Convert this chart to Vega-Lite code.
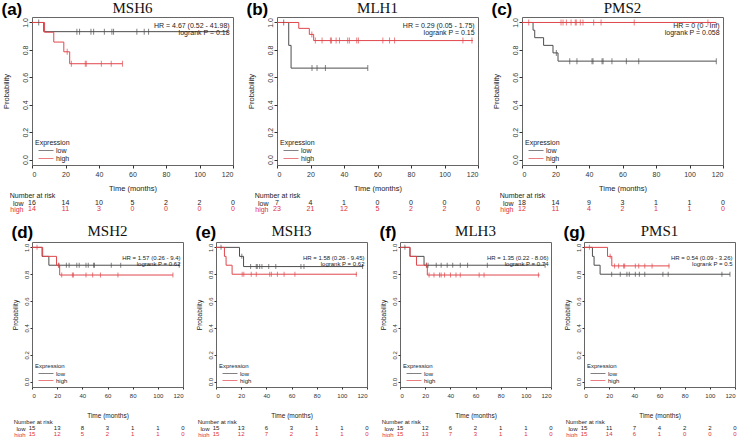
{
"$schema": "https://vega.github.io/schema/vega-lite/v6.json",
"padding": {"left": 1, "top": 0, "right": 0, "bottom": 0},
"config": {
  "font": "Liberation Sans",
  "view": {"stroke": "#666", "strokeWidth": 1},
  "axis": {"grid": false, "domain": false, "tickColor": "#333", "labelColor": "#333", "titleColor": "#222", "titleFontWeight": "normal", "labelFont": "Liberation Sans", "titleFont": "Liberation Sans"},
  "legend": {"orient": "bottom-left", "offset": 3, "padding": 0, "titleFontWeight": "normal", "titleFontSize": 7, "labelFontSize": 7, "symbolType": "M0,0H5", "symbolSize": 36, "symbolStrokeWidth": 1, "rowPadding": 0, "titlePadding": 1, "labelOffset": 14, "titleColor": "#222", "labelColor": "#222", "titleFont": "Liberation Sans", "labelFont": "Liberation Sans"},
  "text": {"font": "Liberation Sans"}
},
"datasets": {
  "a": [
    {"t":0,"s":1,"g":"low","k":"c"},{"t":7,"s":0.933,"g":"low","k":"c"},{"t":117,"s":0.933,"g":"low","k":"c"},
    {"t":0,"s":1,"g":"high","k":"c"},{"t":7.5,"s":0.929,"g":"high","k":"c"},{"t":13,"s":0.857,"g":"high","k":"c"},{"t":19,"s":0.786,"g":"high","k":"c"},{"t":22.5,"s":0.699,"g":"high","k":"c"},{"t":54,"s":0.699,"g":"high","k":"c"},
    {"t":4,"s":1,"g":"low","k":"x"},{"t":26.8,"s":0.933,"g":"low","k":"x"},{"t":28.4,"s":0.933,"g":"low","k":"x"},{"t":35.2,"s":0.933,"g":"low","k":"x"},{"t":36.8,"s":0.933,"g":"low","k":"x"},{"t":43.2,"s":0.933,"g":"low","k":"x"},{"t":47.7,"s":0.933,"g":"low","k":"x"},{"t":48.7,"s":0.933,"g":"low","k":"x"},{"t":62.6,"s":0.933,"g":"low","k":"x"},{"t":67,"s":0.933,"g":"low","k":"x"},{"t":69.6,"s":0.933,"g":"low","k":"x"},
    {"t":21,"s":0.786,"g":"high","k":"x"},{"t":23.5,"s":0.699,"g":"high","k":"x"},{"t":31.8,"s":0.699,"g":"high","k":"x"},{"t":32.4,"s":0.699,"g":"high","k":"x"},{"t":41.4,"s":0.699,"g":"high","k":"x"},{"t":47.3,"s":0.699,"g":"high","k":"x"},{"t":54,"s":0.699,"g":"high","k":"x"},
    {"k":"h1","label":"HR = 4.67 (0.52 - 41.98)"},{"k":"h2","label":"logrank P = 0.18"}
  ],
  "b": [
    {"t":0,"s":1,"g":"low","k":"c"},{"t":7,"s":0.833,"g":"low","k":"c"},{"t":8.4,"s":0.667,"g":"low","k":"c"},{"t":54.2,"s":0.667,"g":"low","k":"c"},
    {"t":0,"s":1,"g":"high","k":"c"},{"t":13,"s":0.957,"g":"high","k":"c"},{"t":19.3,"s":0.913,"g":"high","k":"c"},{"t":21.9,"s":0.868,"g":"high","k":"c"},{"t":117,"s":0.868,"g":"high","k":"c"},
    {"t":4,"s":1,"g":"low","k":"x"},{"t":20.9,"s":0.667,"g":"low","k":"x"},{"t":23.9,"s":0.667,"g":"low","k":"x"},{"t":28.9,"s":0.667,"g":"low","k":"x"},{"t":54.2,"s":0.667,"g":"low","k":"x"},
    {"t":20.8,"s":0.913,"g":"high","k":"x"},{"t":22.9,"s":0.868,"g":"high","k":"x"},{"t":26.9,"s":0.868,"g":"high","k":"x"},{"t":31.9,"s":0.868,"g":"high","k":"x"},{"t":32.5,"s":0.868,"g":"high","k":"x"},{"t":35.3,"s":0.868,"g":"high","k":"x"},{"t":37.3,"s":0.868,"g":"high","k":"x"},{"t":42.2,"s":0.868,"g":"high","k":"x"},{"t":43.2,"s":0.868,"g":"high","k":"x"},{"t":47.6,"s":0.868,"g":"high","k":"x"},{"t":48.6,"s":0.868,"g":"high","k":"x"},{"t":63.2,"s":0.868,"g":"high","k":"x"},{"t":67.2,"s":0.868,"g":"high","k":"x"},{"t":70.2,"s":0.868,"g":"high","k":"x"},{"t":111,"s":0.868,"g":"high","k":"x"},{"t":116.4,"s":0.868,"g":"high","k":"x"},
    {"k":"h1","label":"HR = 0.29 (0.05 - 1.75)"},{"k":"h2","label":"logrank P = 0.15"}
  ],
  "c": [
    {"t":0,"s":1,"g":"low","k":"c"},{"t":6.6,"s":0.944,"g":"low","k":"c"},{"t":7.6,"s":0.889,"g":"low","k":"c"},{"t":12.9,"s":0.833,"g":"low","k":"c"},{"t":18.5,"s":0.778,"g":"low","k":"c"},{"t":21.5,"s":0.718,"g":"low","k":"c"},{"t":116,"s":0.718,"g":"low","k":"c"},
    {"t":0,"s":1,"g":"high","k":"c"},{"t":116,"s":1,"g":"high","k":"c"},
    {"t":20.5,"s":0.778,"g":"low","k":"x"},{"t":28.5,"s":0.718,"g":"low","k":"x"},{"t":32.8,"s":0.718,"g":"low","k":"x"},{"t":41.8,"s":0.718,"g":"low","k":"x"},{"t":42.4,"s":0.718,"g":"low","k":"x"},{"t":47.8,"s":0.718,"g":"low","k":"x"},{"t":48.4,"s":0.718,"g":"low","k":"x"},{"t":53.7,"s":0.718,"g":"low","k":"x"},{"t":62.3,"s":0.718,"g":"low","k":"x"},{"t":69.7,"s":0.718,"g":"low","k":"x"},{"t":116,"s":0.718,"g":"low","k":"x"},
    {"t":4,"s":1,"g":"high","k":"x"},{"t":23.3,"s":1,"g":"high","k":"x"},{"t":24.5,"s":1,"g":"high","k":"x"},{"t":26.5,"s":1,"g":"high","k":"x"},{"t":29.3,"s":1,"g":"high","k":"x"},{"t":31.8,"s":1,"g":"high","k":"x"},{"t":32.4,"s":1,"g":"high","k":"x"},{"t":34.8,"s":1,"g":"high","k":"x"},{"t":36.4,"s":1,"g":"high","k":"x"},{"t":42.8,"s":1,"g":"high","k":"x"},{"t":47.2,"s":1,"g":"high","k":"x"},{"t":67,"s":1,"g":"high","k":"x"},{"t":111,"s":1,"g":"high","k":"x"},
    {"k":"h1","label":"HR = 0 (0 - Inf)"},{"k":"h2","label":"logrank P = 0.058"}
  ],
  "d": [
    {"t":0,"s":1,"g":"low","k":"c"},{"t":8,"s":0.933,"g":"low","k":"c"},{"t":13.4,"s":0.867,"g":"low","k":"c"},{"t":117,"s":0.867,"g":"low","k":"c"},
    {"t":0,"s":1,"g":"high","k":"c"},{"t":8.5,"s":0.933,"g":"high","k":"c"},{"t":19.5,"s":0.867,"g":"high","k":"c"},{"t":22,"s":0.794,"g":"high","k":"c"},{"t":112,"s":0.794,"g":"high","k":"c"},
    {"t":21.4,"s":0.867,"g":"low","k":"x"},{"t":27.3,"s":0.867,"g":"low","k":"x"},{"t":29.5,"s":0.867,"g":"low","k":"x"},{"t":35.6,"s":0.867,"g":"low","k":"x"},{"t":37.5,"s":0.867,"g":"low","k":"x"},{"t":42.9,"s":0.867,"g":"low","k":"x"},{"t":44.7,"s":0.867,"g":"low","k":"x"},{"t":49,"s":0.867,"g":"low","k":"x"},{"t":49.6,"s":0.867,"g":"low","k":"x"},{"t":63,"s":0.867,"g":"low","k":"x"},{"t":70.5,"s":0.867,"g":"low","k":"x"},{"t":117,"s":0.867,"g":"low","k":"x"},
    {"t":4,"s":1,"g":"high","k":"x"},{"t":21,"s":0.867,"g":"high","k":"x"},{"t":23.6,"s":0.794,"g":"high","k":"x"},{"t":32.1,"s":0.794,"g":"high","k":"x"},{"t":32.9,"s":0.794,"g":"high","k":"x"},{"t":42.9,"s":0.794,"g":"high","k":"x"},{"t":48.2,"s":0.794,"g":"high","k":"x"},{"t":54.4,"s":0.794,"g":"high","k":"x"},{"t":68.3,"s":0.794,"g":"high","k":"x"},{"t":112,"s":0.794,"g":"high","k":"x"},
    {"k":"h1","label":"HR = 1.57 (0.26 - 9.4)"},{"k":"h2","label":"logrank P = 0.62"}
  ],
  "e": [
    {"t":0,"s":1,"g":"low","k":"c"},{"t":18.7,"s":0.933,"g":"low","k":"c"},{"t":21.9,"s":0.857,"g":"low","k":"c"},{"t":117,"s":0.857,"g":"low","k":"c"},
    {"t":0,"s":1,"g":"high","k":"c"},{"t":6.7,"s":0.933,"g":"high","k":"c"},{"t":8,"s":0.867,"g":"high","k":"c"},{"t":12.8,"s":0.8,"g":"high","k":"c"},{"t":112,"s":0.8,"g":"high","k":"c"},
    {"t":4,"s":1,"g":"low","k":"x"},{"t":20.5,"s":0.933,"g":"low","k":"x"},{"t":27.5,"s":0.857,"g":"low","k":"x"},{"t":32,"s":0.857,"g":"low","k":"x"},{"t":32.8,"s":0.857,"g":"low","k":"x"},{"t":34.7,"s":0.857,"g":"low","k":"x"},{"t":36.5,"s":0.857,"g":"low","k":"x"},{"t":41.9,"s":0.857,"g":"low","k":"x"},{"t":47.5,"s":0.857,"g":"low","k":"x"},{"t":67.5,"s":0.857,"g":"low","k":"x"},{"t":69.9,"s":0.857,"g":"low","k":"x"},{"t":116.5,"s":0.857,"g":"low","k":"x"},
    {"t":20.8,"s":0.8,"g":"high","k":"x"},{"t":22.1,"s":0.8,"g":"high","k":"x"},{"t":28,"s":0.8,"g":"high","k":"x"},{"t":32,"s":0.8,"g":"high","k":"x"},{"t":42.7,"s":0.8,"g":"high","k":"x"},{"t":44,"s":0.8,"g":"high","k":"x"},{"t":48.8,"s":0.8,"g":"high","k":"x"},{"t":54.1,"s":0.8,"g":"high","k":"x"},{"t":62.7,"s":0.8,"g":"high","k":"x"},{"t":111.5,"s":0.8,"g":"high","k":"x"},
    {"k":"h1","label":"HR = 1.58 (0.26 - 9.45)"},{"k":"h2","label":"logrank P = 0.62"}
  ],
  "f": [
    {"t":0,"s":1,"g":"low","k":"c"},{"t":7.9,"s":0.933,"g":"low","k":"c"},{"t":19.1,"s":0.867,"g":"low","k":"c"},{"t":115.3,"s":0.867,"g":"low","k":"c"},
    {"t":0,"s":1,"g":"high","k":"c"},{"t":8,"s":0.933,"g":"high","k":"c"},{"t":13.1,"s":0.867,"g":"high","k":"c"},{"t":21.7,"s":0.794,"g":"high","k":"c"},{"t":111,"s":0.794,"g":"high","k":"c"},
    {"t":3.9,"s":1,"g":"low","k":"x"},{"t":21,"s":0.867,"g":"low","k":"x"},{"t":22.3,"s":0.867,"g":"low","k":"x"},{"t":28.8,"s":0.867,"g":"low","k":"x"},{"t":32.7,"s":0.867,"g":"low","k":"x"},{"t":37.5,"s":0.867,"g":"low","k":"x"},{"t":41.9,"s":0.867,"g":"low","k":"x"},{"t":47.9,"s":0.867,"g":"low","k":"x"},{"t":53.7,"s":0.867,"g":"low","k":"x"},{"t":69.4,"s":0.867,"g":"low","k":"x"},{"t":115.3,"s":0.867,"g":"low","k":"x"},
    {"t":21,"s":0.867,"g":"high","k":"x"},{"t":23.1,"s":0.794,"g":"high","k":"x"},{"t":27,"s":0.794,"g":"high","k":"x"},{"t":31.4,"s":0.794,"g":"high","k":"x"},{"t":32.7,"s":0.794,"g":"high","k":"x"},{"t":35.4,"s":0.794,"g":"high","k":"x"},{"t":40.1,"s":0.794,"g":"high","k":"x"},{"t":44.5,"s":0.794,"g":"high","k":"x"},{"t":47.9,"s":0.794,"g":"high","k":"x"},{"t":62.9,"s":0.794,"g":"high","k":"x"},{"t":66.8,"s":0.794,"g":"high","k":"x"},{"t":110,"s":0.794,"g":"high","k":"x"},
    {"k":"h1","label":"HR = 1.35 (0.22 - 8.06)"},{"k":"h2","label":"logrank P = 0.74"}
  ],
  "g": [
    {"t":0,"s":1,"g":"low","k":"c"},{"t":6.7,"s":0.933,"g":"low","k":"c"},{"t":8,"s":0.867,"g":"low","k":"c"},{"t":12.8,"s":0.8,"g":"low","k":"c"},{"t":116,"s":0.8,"g":"low","k":"c"},
    {"t":0,"s":1,"g":"high","k":"c"},{"t":18.7,"s":0.933,"g":"high","k":"c"},{"t":22.1,"s":0.862,"g":"high","k":"c"},{"t":68,"s":0.862,"g":"high","k":"c"},
    {"t":22,"s":0.8,"g":"low","k":"x"},{"t":28.8,"s":0.8,"g":"low","k":"x"},{"t":34.1,"s":0.8,"g":"low","k":"x"},{"t":36,"s":0.8,"g":"low","k":"x"},{"t":40.8,"s":0.8,"g":"low","k":"x"},{"t":44,"s":0.8,"g":"low","k":"x"},{"t":48.3,"s":0.8,"g":"low","k":"x"},{"t":62.7,"s":0.8,"g":"low","k":"x"},{"t":66.9,"s":0.8,"g":"low","k":"x"},{"t":109.6,"s":0.8,"g":"low","k":"x"},{"t":116,"s":0.8,"g":"low","k":"x"},
    {"t":4.3,"s":1,"g":"high","k":"x"},{"t":20.8,"s":0.933,"g":"high","k":"x"},{"t":24.3,"s":0.862,"g":"high","k":"x"},{"t":27.5,"s":0.862,"g":"high","k":"x"},{"t":31.5,"s":0.862,"g":"high","k":"x"},{"t":32.3,"s":0.862,"g":"high","k":"x"},{"t":40.8,"s":0.862,"g":"high","k":"x"},{"t":43.5,"s":0.862,"g":"high","k":"x"},{"t":48.3,"s":0.862,"g":"high","k":"x"},{"t":54.1,"s":0.862,"g":"high","k":"x"},{"t":67.5,"s":0.862,"g":"high","k":"x"},
    {"k":"h1","label":"HR = 0.54 (0.09 - 3.26)"},{"k":"h2","label":"logrank P = 0.5"}
  ],
  "ra": [{"t":0,"n":16,"g":"low"},{"t":20,"n":14,"g":"low"},{"t":40,"n":10,"g":"low"},{"t":60,"n":5,"g":"low"},{"t":80,"n":2,"g":"low"},{"t":100,"n":2,"g":"low"},{"t":120,"n":0,"g":"low"},
         {"t":0,"n":14,"g":"high"},{"t":20,"n":11,"g":"high"},{"t":40,"n":3,"g":"high"},{"t":60,"n":0,"g":"high"},{"t":80,"n":0,"g":"high"},{"t":100,"n":0,"g":"high"},{"t":120,"n":0,"g":"high"}],
  "rb": [{"t":0,"n":7,"g":"low"},{"t":20,"n":4,"g":"low"},{"t":40,"n":1,"g":"low"},{"t":60,"n":0,"g":"low"},{"t":80,"n":0,"g":"low"},{"t":100,"n":0,"g":"low"},{"t":120,"n":0,"g":"low"},
         {"t":0,"n":23,"g":"high"},{"t":20,"n":21,"g":"high"},{"t":40,"n":12,"g":"high"},{"t":60,"n":5,"g":"high"},{"t":80,"n":2,"g":"high"},{"t":100,"n":2,"g":"high"},{"t":120,"n":0,"g":"high"}],
  "rc": [{"t":0,"n":18,"g":"low"},{"t":20,"n":14,"g":"low"},{"t":40,"n":9,"g":"low"},{"t":60,"n":3,"g":"low"},{"t":80,"n":1,"g":"low"},{"t":100,"n":1,"g":"low"},{"t":120,"n":0,"g":"low"},
         {"t":0,"n":12,"g":"high"},{"t":20,"n":11,"g":"high"},{"t":40,"n":4,"g":"high"},{"t":60,"n":2,"g":"high"},{"t":80,"n":1,"g":"high"},{"t":100,"n":1,"g":"high"},{"t":120,"n":0,"g":"high"}],
  "rd": [{"t":0,"n":15,"g":"low"},{"t":20,"n":13,"g":"low"},{"t":40,"n":8,"g":"low"},{"t":60,"n":3,"g":"low"},{"t":80,"n":1,"g":"low"},{"t":100,"n":1,"g":"low"},{"t":120,"n":0,"g":"low"},
         {"t":0,"n":15,"g":"high"},{"t":20,"n":12,"g":"high"},{"t":40,"n":5,"g":"high"},{"t":60,"n":2,"g":"high"},{"t":80,"n":1,"g":"high"},{"t":100,"n":1,"g":"high"},{"t":120,"n":0,"g":"high"}],
  "re": [{"t":0,"n":15,"g":"low"},{"t":20,"n":13,"g":"low"},{"t":40,"n":6,"g":"low"},{"t":60,"n":3,"g":"low"},{"t":80,"n":1,"g":"low"},{"t":100,"n":1,"g":"low"},{"t":120,"n":0,"g":"low"},
         {"t":0,"n":15,"g":"high"},{"t":20,"n":12,"g":"high"},{"t":40,"n":7,"g":"high"},{"t":60,"n":2,"g":"high"},{"t":80,"n":1,"g":"high"},{"t":100,"n":1,"g":"high"},{"t":120,"n":0,"g":"high"}],
  "rf": [{"t":0,"n":15,"g":"low"},{"t":20,"n":12,"g":"low"},{"t":40,"n":6,"g":"low"},{"t":60,"n":2,"g":"low"},{"t":80,"n":1,"g":"low"},{"t":100,"n":1,"g":"low"},{"t":120,"n":0,"g":"low"},
         {"t":0,"n":15,"g":"high"},{"t":20,"n":13,"g":"high"},{"t":40,"n":7,"g":"high"},{"t":60,"n":3,"g":"high"},{"t":80,"n":1,"g":"high"},{"t":100,"n":1,"g":"high"},{"t":120,"n":0,"g":"high"}],
  "rg": [{"t":0,"n":15,"g":"low"},{"t":20,"n":11,"g":"low"},{"t":40,"n":7,"g":"low"},{"t":60,"n":4,"g":"low"},{"t":80,"n":2,"g":"low"},{"t":100,"n":2,"g":"low"},{"t":120,"n":0,"g":"low"},
         {"t":0,"n":15,"g":"high"},{"t":20,"n":14,"g":"high"},{"t":40,"n":6,"g":"high"},{"t":60,"n":1,"g":"high"},{"t":80,"n":0,"g":"high"},{"t":100,"n":0,"g":"high"},{"t":120,"n":0,"g":"high"}]
},
"resolve": {"scale": {"x": "independent", "y": "independent", "color": "independent"}, "legend": {"color": "independent"}},
"spacing": 11,
"vconcat": [
 {
  "hconcat": [
   {
    "title": {"text": "(a)", "anchor": "start", "frame": "bounds", "fontSize": 17, "fontWeight": "bold", "offset": -18, "color": "#000"},
    "spacing": 0,
    "resolve": {"scale": {"x": "independent", "y": "independent", "color": "independent"}, "legend": {"color": "independent"}},
    "vconcat": [
     {
      "width": 201, "height": 148,
      "title": {"text": "MSH6", "font": "Liberation Serif", "fontSize": 15, "fontWeight": "normal", "offset": 1, "color": "#111"},
      "data": {"name": "a"},
      "layer": [
        {"transform": [{"filter": "datum.k == 'c'"}], "mark": {"type": "line", "interpolate": "step-after", "strokeWidth": 1},
         "encoding": {
          "x": {"field": "t", "type": "quantitative", "scale": {"domain": [0, 120], "nice": false, "zero": false}, "axis": {"values": [0,20,40,60,80,100,120], "title": "Time (months)", "labelFontSize": 7, "titleFontSize": 7.5, "tickSize": 3, "labelPadding": 2, "titlePadding": 7}},
          "y": {"field": "s", "type": "quantitative", "scale": {"domain": [-0.04, 1.04], "nice": false, "zero": false}, "axis": {"values": [0,0.2,0.4,0.6,0.8,1], "format": ".1f", "title": "Probability", "labelAngle": -90, "labelFontSize": 7, "titleFontSize": 7.5, "tickSize": 3, "labelPadding": 1, "titlePadding": 11}},
          "color": {"field": "g", "type": "nominal", "scale": {"domain": ["low","high"], "range": ["#4d4d4d","#e0474c"]}, "legend": {"title": "Expression"}}}},
        {"transform": [{"filter": "datum.k == 'x'"}], "mark": {"type": "tick", "orient": "vertical", "size": 6, "thickness": 1},
         "encoding": {
          "x": {"field": "t", "type": "quantitative", "scale": {"domain": [0, 120], "nice": false, "zero": false}, "axis": {"values": [0,20,40,60,80,100,120], "title": "Time (months)", "labelFontSize": 7, "titleFontSize": 7.5, "tickSize": 3, "labelPadding": 2, "titlePadding": 7}},
          "y": {"field": "s", "type": "quantitative", "scale": {"domain": [-0.04, 1.04], "nice": false, "zero": false}, "axis": {"values": [0,0.2,0.4,0.6,0.8,1], "format": ".1f", "title": "Probability", "labelAngle": -90, "labelFontSize": 7, "titleFontSize": 7.5, "tickSize": 3, "labelPadding": 1, "titlePadding": 11}},
          "color": {"field": "g", "type": "nominal", "scale": {"domain": ["low","high"], "range": ["#4d4d4d","#e0474c"]}, "legend": {"title": "Expression"}}}},
        {"transform": [{"filter": "datum.k == 'h1'"}], "mark": {"type": "text", "align": "right", "baseline": "middle", "fontSize": 7, "fill": "#222"},
         "encoding": {
          "x": {"datum": 118, "type": "quantitative", "scale": {"domain": [0, 120], "nice": false, "zero": false}, "axis": {"values": [0,20,40,60,80,100,120], "title": "Time (months)", "labelFontSize": 7, "titleFontSize": 7.5, "tickSize": 3, "labelPadding": 2, "titlePadding": 7}},
          "y": {"datum": 0.975, "type": "quantitative", "scale": {"domain": [-0.04, 1.04], "nice": false, "zero": false}, "axis": {"values": [0,0.2,0.4,0.6,0.8,1], "format": ".1f", "title": "Probability", "labelAngle": -90, "labelFontSize": 7, "titleFontSize": 7.5, "tickSize": 3, "labelPadding": 1, "titlePadding": 11}},
          "text": {"field": "label", "type": "nominal"}}},
        {"transform": [{"filter": "datum.k == 'h2'"}], "mark": {"type": "text", "align": "right", "baseline": "middle", "fontSize": 7, "fill": "#222"},
         "encoding": {
          "x": {"datum": 118, "type": "quantitative", "scale": {"domain": [0, 120], "nice": false, "zero": false}, "axis": {"values": [0,20,40,60,80,100,120], "title": "Time (months)", "labelFontSize": 7, "titleFontSize": 7.5, "tickSize": 3, "labelPadding": 2, "titlePadding": 7}},
          "y": {"datum": 0.925, "type": "quantitative", "scale": {"domain": [-0.04, 1.04], "nice": false, "zero": false}, "axis": {"values": [0,0.2,0.4,0.6,0.8,1], "format": ".1f", "title": "Probability", "labelAngle": -90, "labelFontSize": 7, "titleFontSize": 7.5, "tickSize": 3, "labelPadding": 1, "titlePadding": 11}},
          "text": {"field": "label", "type": "nominal"}}}
      ]
     },
     {
      "width": 201, "height": 12, "view": {"stroke": null},
      "title": {"text": "Number at risk", "anchor": "start", "fontSize": 7, "fontWeight": "normal", "offset": 0, "color": "#222"},
      "data": {"name": "ra"},
      "mark": {"type": "text", "fontSize": 7},
      "encoding": {
        "x": {"field": "t", "type": "quantitative", "scale": {"domain": [0, 120], "nice": false}, "axis": null},
        "y": {"field": "g", "type": "nominal", "scale": {"domain": ["low","high"]}, "axis": {"title": null, "ticks": false, "domain": false, "labelPadding": 9, "labelFontSize": 7, "labelColor": {"condition": {"test": "datum.value == 'high'", "value": "#e0303a"}, "value": "#222"}}},
        "text": {"field": "n", "type": "quantitative"},
        "color": {"condition": {"test": "datum.g == 'high'", "value": "#e0303a"}, "value": "#222"}
      }
     }
    ]
   },
   {
    "title": {"text": "(b)", "anchor": "start", "frame": "bounds", "fontSize": 17, "fontWeight": "bold", "offset": -18, "color": "#000"},
    "spacing": 0,
    "resolve": {"scale": {"x": "independent", "y": "independent", "color": "independent"}, "legend": {"color": "independent"}},
    "vconcat": [
     {
      "width": 201, "height": 148,
      "title": {"text": "MLH1", "font": "Liberation Serif", "fontSize": 15, "fontWeight": "normal", "offset": 1, "color": "#111"},
      "data": {"name": "b"},
      "layer": [
        {"transform": [{"filter": "datum.k == 'c'"}], "mark": {"type": "line", "interpolate": "step-after", "strokeWidth": 1},
         "encoding": {
          "x": {"field": "t", "type": "quantitative", "scale": {"domain": [0, 120], "nice": false, "zero": false}, "axis": {"values": [0,20,40,60,80,100,120], "title": "Time (months)", "labelFontSize": 7, "titleFontSize": 7.5, "tickSize": 3, "labelPadding": 2, "titlePadding": 7}},
          "y": {"field": "s", "type": "quantitative", "scale": {"domain": [-0.04, 1.04], "nice": false, "zero": false}, "axis": {"values": [0,0.2,0.4,0.6,0.8,1], "format": ".1f", "title": "Probability", "labelAngle": -90, "labelFontSize": 7, "titleFontSize": 7.5, "tickSize": 3, "labelPadding": 1, "titlePadding": 11}},
          "color": {"field": "g", "type": "nominal", "scale": {"domain": ["low","high"], "range": ["#4d4d4d","#e0474c"]}, "legend": {"title": "Expression"}}}},
        {"transform": [{"filter": "datum.k == 'x'"}], "mark": {"type": "tick", "orient": "vertical", "size": 6, "thickness": 1},
         "encoding": {
          "x": {"field": "t", "type": "quantitative", "scale": {"domain": [0, 120], "nice": false, "zero": false}, "axis": {"values": [0,20,40,60,80,100,120], "title": "Time (months)", "labelFontSize": 7, "titleFontSize": 7.5, "tickSize": 3, "labelPadding": 2, "titlePadding": 7}},
          "y": {"field": "s", "type": "quantitative", "scale": {"domain": [-0.04, 1.04], "nice": false, "zero": false}, "axis": {"values": [0,0.2,0.4,0.6,0.8,1], "format": ".1f", "title": "Probability", "labelAngle": -90, "labelFontSize": 7, "titleFontSize": 7.5, "tickSize": 3, "labelPadding": 1, "titlePadding": 11}},
          "color": {"field": "g", "type": "nominal", "scale": {"domain": ["low","high"], "range": ["#4d4d4d","#e0474c"]}, "legend": {"title": "Expression"}}}},
        {"transform": [{"filter": "datum.k == 'h1'"}], "mark": {"type": "text", "align": "right", "baseline": "middle", "fontSize": 7, "fill": "#222"},
         "encoding": {
          "x": {"datum": 118, "type": "quantitative", "scale": {"domain": [0, 120], "nice": false, "zero": false}, "axis": {"values": [0,20,40,60,80,100,120], "title": "Time (months)", "labelFontSize": 7, "titleFontSize": 7.5, "tickSize": 3, "labelPadding": 2, "titlePadding": 7}},
          "y": {"datum": 0.975, "type": "quantitative", "scale": {"domain": [-0.04, 1.04], "nice": false, "zero": false}, "axis": {"values": [0,0.2,0.4,0.6,0.8,1], "format": ".1f", "title": "Probability", "labelAngle": -90, "labelFontSize": 7, "titleFontSize": 7.5, "tickSize": 3, "labelPadding": 1, "titlePadding": 11}},
          "text": {"field": "label", "type": "nominal"}}},
        {"transform": [{"filter": "datum.k == 'h2'"}], "mark": {"type": "text", "align": "right", "baseline": "middle", "fontSize": 7, "fill": "#222"},
         "encoding": {
          "x": {"datum": 118, "type": "quantitative", "scale": {"domain": [0, 120], "nice": false, "zero": false}, "axis": {"values": [0,20,40,60,80,100,120], "title": "Time (months)", "labelFontSize": 7, "titleFontSize": 7.5, "tickSize": 3, "labelPadding": 2, "titlePadding": 7}},
          "y": {"datum": 0.925, "type": "quantitative", "scale": {"domain": [-0.04, 1.04], "nice": false, "zero": false}, "axis": {"values": [0,0.2,0.4,0.6,0.8,1], "format": ".1f", "title": "Probability", "labelAngle": -90, "labelFontSize": 7, "titleFontSize": 7.5, "tickSize": 3, "labelPadding": 1, "titlePadding": 11}},
          "text": {"field": "label", "type": "nominal"}}}
      ]
     },
     {
      "width": 201, "height": 12, "view": {"stroke": null},
      "title": {"text": "Number at risk", "anchor": "start", "fontSize": 7, "fontWeight": "normal", "offset": 0, "color": "#222"},
      "data": {"name": "rb"},
      "mark": {"type": "text", "fontSize": 7},
      "encoding": {
        "x": {"field": "t", "type": "quantitative", "scale": {"domain": [0, 120], "nice": false}, "axis": null},
        "y": {"field": "g", "type": "nominal", "scale": {"domain": ["low","high"]}, "axis": {"title": null, "ticks": false, "domain": false, "labelPadding": 9, "labelFontSize": 7, "labelColor": {"condition": {"test": "datum.value == 'high'", "value": "#e0303a"}, "value": "#222"}}},
        "text": {"field": "n", "type": "quantitative"},
        "color": {"condition": {"test": "datum.g == 'high'", "value": "#e0303a"}, "value": "#222"}
      }
     }
    ]
   },
   {
    "title": {"text": "(c)", "anchor": "start", "frame": "bounds", "fontSize": 17, "fontWeight": "bold", "offset": -18, "color": "#000"},
    "spacing": 0,
    "resolve": {"scale": {"x": "independent", "y": "independent", "color": "independent"}, "legend": {"color": "independent"}},
    "vconcat": [
     {
      "width": 201, "height": 148,
      "title": {"text": "PMS2", "font": "Liberation Serif", "fontSize": 15, "fontWeight": "normal", "offset": 1, "color": "#111"},
      "data": {"name": "c"},
      "layer": [
        {"transform": [{"filter": "datum.k == 'c'"}], "mark": {"type": "line", "interpolate": "step-after", "strokeWidth": 1},
         "encoding": {
          "x": {"field": "t", "type": "quantitative", "scale": {"domain": [0, 120], "nice": false, "zero": false}, "axis": {"values": [0,20,40,60,80,100,120], "title": "Time (months)", "labelFontSize": 7, "titleFontSize": 7.5, "tickSize": 3, "labelPadding": 2, "titlePadding": 7}},
          "y": {"field": "s", "type": "quantitative", "scale": {"domain": [-0.04, 1.04], "nice": false, "zero": false}, "axis": {"values": [0,0.2,0.4,0.6,0.8,1], "format": ".1f", "title": "Probability", "labelAngle": -90, "labelFontSize": 7, "titleFontSize": 7.5, "tickSize": 3, "labelPadding": 1, "titlePadding": 11}},
          "color": {"field": "g", "type": "nominal", "scale": {"domain": ["low","high"], "range": ["#4d4d4d","#e0474c"]}, "legend": {"title": "Expression"}}}},
        {"transform": [{"filter": "datum.k == 'x'"}], "mark": {"type": "tick", "orient": "vertical", "size": 6, "thickness": 1},
         "encoding": {
          "x": {"field": "t", "type": "quantitative", "scale": {"domain": [0, 120], "nice": false, "zero": false}, "axis": {"values": [0,20,40,60,80,100,120], "title": "Time (months)", "labelFontSize": 7, "titleFontSize": 7.5, "tickSize": 3, "labelPadding": 2, "titlePadding": 7}},
          "y": {"field": "s", "type": "quantitative", "scale": {"domain": [-0.04, 1.04], "nice": false, "zero": false}, "axis": {"values": [0,0.2,0.4,0.6,0.8,1], "format": ".1f", "title": "Probability", "labelAngle": -90, "labelFontSize": 7, "titleFontSize": 7.5, "tickSize": 3, "labelPadding": 1, "titlePadding": 11}},
          "color": {"field": "g", "type": "nominal", "scale": {"domain": ["low","high"], "range": ["#4d4d4d","#e0474c"]}, "legend": {"title": "Expression"}}}},
        {"transform": [{"filter": "datum.k == 'h1'"}], "mark": {"type": "text", "align": "right", "baseline": "middle", "fontSize": 7, "fill": "#222"},
         "encoding": {
          "x": {"datum": 118, "type": "quantitative", "scale": {"domain": [0, 120], "nice": false, "zero": false}, "axis": {"values": [0,20,40,60,80,100,120], "title": "Time (months)", "labelFontSize": 7, "titleFontSize": 7.5, "tickSize": 3, "labelPadding": 2, "titlePadding": 7}},
          "y": {"datum": 0.975, "type": "quantitative", "scale": {"domain": [-0.04, 1.04], "nice": false, "zero": false}, "axis": {"values": [0,0.2,0.4,0.6,0.8,1], "format": ".1f", "title": "Probability", "labelAngle": -90, "labelFontSize": 7, "titleFontSize": 7.5, "tickSize": 3, "labelPadding": 1, "titlePadding": 11}},
          "text": {"field": "label", "type": "nominal"}}},
        {"transform": [{"filter": "datum.k == 'h2'"}], "mark": {"type": "text", "align": "right", "baseline": "middle", "fontSize": 7, "fill": "#222"},
         "encoding": {
          "x": {"datum": 118, "type": "quantitative", "scale": {"domain": [0, 120], "nice": false, "zero": false}, "axis": {"values": [0,20,40,60,80,100,120], "title": "Time (months)", "labelFontSize": 7, "titleFontSize": 7.5, "tickSize": 3, "labelPadding": 2, "titlePadding": 7}},
          "y": {"datum": 0.925, "type": "quantitative", "scale": {"domain": [-0.04, 1.04], "nice": false, "zero": false}, "axis": {"values": [0,0.2,0.4,0.6,0.8,1], "format": ".1f", "title": "Probability", "labelAngle": -90, "labelFontSize": 7, "titleFontSize": 7.5, "tickSize": 3, "labelPadding": 1, "titlePadding": 11}},
          "text": {"field": "label", "type": "nominal"}}}
      ]
     },
     {
      "width": 201, "height": 12, "view": {"stroke": null},
      "title": {"text": "Number at risk", "anchor": "start", "fontSize": 7, "fontWeight": "normal", "offset": 0, "color": "#222"},
      "data": {"name": "rc"},
      "mark": {"type": "text", "fontSize": 7},
      "encoding": {
        "x": {"field": "t", "type": "quantitative", "scale": {"domain": [0, 120], "nice": false}, "axis": null},
        "y": {"field": "g", "type": "nominal", "scale": {"domain": ["low","high"]}, "axis": {"title": null, "ticks": false, "domain": false, "labelPadding": 9, "labelFontSize": 7, "labelColor": {"condition": {"test": "datum.value == 'high'", "value": "#e0303a"}, "value": "#222"}}},
        "text": {"field": "n", "type": "quantitative"},
        "color": {"condition": {"test": "datum.g == 'high'", "value": "#e0303a"}, "value": "#222"}
      }
     }
    ]
   }
  ],
  "spacing": 11,
  "resolve": {"scale": {"x": "independent", "y": "independent", "color": "independent"}, "legend": {"color": "independent"}}
 },
 {
  "hconcat": [
   {
    "title": {"text": "(d)", "anchor": "start", "frame": "bounds", "fontSize": 17, "fontWeight": "bold", "offset": -18, "color": "#000"},
    "spacing": 0,
    "resolve": {"scale": {"x": "independent", "y": "independent", "color": "independent"}, "legend": {"color": "independent"}},
    "vconcat": [
     {
      "width": 151, "height": 145,
      "title": {"text": "MSH2", "font": "Liberation Serif", "fontSize": 15, "fontWeight": "normal", "offset": 3, "color": "#111"},
      "data": {"name": "d"},
      "layer": [
        {"transform": [{"filter": "datum.k == 'c'"}], "mark": {"type": "line", "interpolate": "step-after", "strokeWidth": 1},
         "encoding": {
          "x": {"field": "t", "type": "quantitative", "scale": {"domain": [0, 120], "nice": false, "zero": false}, "axis": {"values": [0,20,40,60,80,100,120], "title": "Time (months)", "labelFontSize": 6, "titleFontSize": 6.5, "tickSize": 2, "labelPadding": 3, "titlePadding": 14}},
          "y": {"field": "s", "type": "quantitative", "scale": {"domain": [-0.04, 1.04], "nice": false, "zero": false}, "axis": {"values": [0,0.2,0.4,0.6,0.8,1], "format": ".1f", "title": "Probability", "labelAngle": -90, "labelFontSize": 6, "titleFontSize": 6.5, "tickSize": 2, "labelPadding": 1, "titlePadding": 5}},
          "color": {"field": "g", "type": "nominal", "scale": {"domain": ["low","high"], "range": ["#4d4d4d","#e0474c"]}, "legend": {"title": "Expression", "titleFontSize": 6, "labelFontSize": 6}}}},
        {"transform": [{"filter": "datum.k == 'x'"}], "mark": {"type": "tick", "orient": "vertical", "size": 5, "thickness": 1},
         "encoding": {
          "x": {"field": "t", "type": "quantitative", "scale": {"domain": [0, 120], "nice": false, "zero": false}, "axis": {"values": [0,20,40,60,80,100,120], "title": "Time (months)", "labelFontSize": 6, "titleFontSize": 6.5, "tickSize": 2, "labelPadding": 3, "titlePadding": 14}},
          "y": {"field": "s", "type": "quantitative", "scale": {"domain": [-0.04, 1.04], "nice": false, "zero": false}, "axis": {"values": [0,0.2,0.4,0.6,0.8,1], "format": ".1f", "title": "Probability", "labelAngle": -90, "labelFontSize": 6, "titleFontSize": 6.5, "tickSize": 2, "labelPadding": 1, "titlePadding": 5}},
          "color": {"field": "g", "type": "nominal", "scale": {"domain": ["low","high"], "range": ["#4d4d4d","#e0474c"]}, "legend": {"title": "Expression", "titleFontSize": 6, "labelFontSize": 6}}}},
        {"transform": [{"filter": "datum.k == 'h1'"}], "mark": {"type": "text", "align": "right", "baseline": "middle", "fontSize": 6, "fill": "#222"},
         "encoding": {
          "x": {"datum": 118, "type": "quantitative", "scale": {"domain": [0, 120], "nice": false, "zero": false}, "axis": {"values": [0,20,40,60,80,100,120], "title": "Time (months)", "labelFontSize": 6, "titleFontSize": 6.5, "tickSize": 2, "labelPadding": 3, "titlePadding": 14}},
          "y": {"datum": 0.918, "type": "quantitative", "scale": {"domain": [-0.04, 1.04], "nice": false, "zero": false}, "axis": {"values": [0,0.2,0.4,0.6,0.8,1], "format": ".1f", "title": "Probability", "labelAngle": -90, "labelFontSize": 6, "titleFontSize": 6.5, "tickSize": 2, "labelPadding": 1, "titlePadding": 5}},
          "text": {"field": "label", "type": "nominal"}}},
        {"transform": [{"filter": "datum.k == 'h2'"}], "mark": {"type": "text", "align": "right", "baseline": "middle", "fontSize": 6, "fill": "#222"},
         "encoding": {
          "x": {"datum": 118, "type": "quantitative", "scale": {"domain": [0, 120], "nice": false, "zero": false}, "axis": {"values": [0,20,40,60,80,100,120], "title": "Time (months)", "labelFontSize": 6, "titleFontSize": 6.5, "tickSize": 2, "labelPadding": 3, "titlePadding": 14}},
          "y": {"datum": 0.878, "type": "quantitative", "scale": {"domain": [-0.04, 1.04], "nice": false, "zero": false}, "axis": {"values": [0,0.2,0.4,0.6,0.8,1], "format": ".1f", "title": "Probability", "labelAngle": -90, "labelFontSize": 6, "titleFontSize": 6.5, "tickSize": 2, "labelPadding": 1, "titlePadding": 5}},
          "text": {"field": "label", "type": "nominal"}}}
      ]
     },
     {
      "width": 151, "height": 12, "view": {"stroke": null},
      "title": {"text": "Number at risk", "anchor": "start", "fontSize": 6, "fontWeight": "normal", "offset": 0, "color": "#222"},
      "data": {"name": "rd"},
      "mark": {"type": "text", "fontSize": 6},
      "encoding": {
        "x": {"field": "t", "type": "quantitative", "scale": {"domain": [0, 120], "nice": false}, "axis": null},
        "y": {"field": "g", "type": "nominal", "scale": {"domain": ["low","high"]}, "axis": {"title": null, "ticks": false, "domain": false, "labelPadding": 7, "labelFontSize": 6, "labelColor": {"condition": {"test": "datum.value == 'high'", "value": "#e0303a"}, "value": "#222"}}},
        "text": {"field": "n", "type": "quantitative"},
        "color": {"condition": {"test": "datum.g == 'high'", "value": "#e0303a"}, "value": "#222"}
      }
     }
    ]
   },
   {
    "title": {"text": "(e)", "anchor": "start", "frame": "bounds", "fontSize": 17, "fontWeight": "bold", "offset": -18, "color": "#000"},
    "spacing": 0,
    "resolve": {"scale": {"x": "independent", "y": "independent", "color": "independent"}, "legend": {"color": "independent"}},
    "vconcat": [
     {
      "width": 151, "height": 145,
      "title": {"text": "MSH3", "font": "Liberation Serif", "fontSize": 15, "fontWeight": "normal", "offset": 3, "color": "#111"},
      "data": {"name": "e"},
      "layer": [
        {"transform": [{"filter": "datum.k == 'c'"}], "mark": {"type": "line", "interpolate": "step-after", "strokeWidth": 1},
         "encoding": {
          "x": {"field": "t", "type": "quantitative", "scale": {"domain": [0, 120], "nice": false, "zero": false}, "axis": {"values": [0,20,40,60,80,100,120], "title": "Time (months)", "labelFontSize": 6, "titleFontSize": 6.5, "tickSize": 2, "labelPadding": 3, "titlePadding": 14}},
          "y": {"field": "s", "type": "quantitative", "scale": {"domain": [-0.04, 1.04], "nice": false, "zero": false}, "axis": {"values": [0,0.2,0.4,0.6,0.8,1], "format": ".1f", "title": "Probability", "labelAngle": -90, "labelFontSize": 6, "titleFontSize": 6.5, "tickSize": 2, "labelPadding": 1, "titlePadding": 5}},
          "color": {"field": "g", "type": "nominal", "scale": {"domain": ["low","high"], "range": ["#4d4d4d","#e0474c"]}, "legend": {"title": "Expression", "titleFontSize": 6, "labelFontSize": 6}}}},
        {"transform": [{"filter": "datum.k == 'x'"}], "mark": {"type": "tick", "orient": "vertical", "size": 5, "thickness": 1},
         "encoding": {
          "x": {"field": "t", "type": "quantitative", "scale": {"domain": [0, 120], "nice": false, "zero": false}, "axis": {"values": [0,20,40,60,80,100,120], "title": "Time (months)", "labelFontSize": 6, "titleFontSize": 6.5, "tickSize": 2, "labelPadding": 3, "titlePadding": 14}},
          "y": {"field": "s", "type": "quantitative", "scale": {"domain": [-0.04, 1.04], "nice": false, "zero": false}, "axis": {"values": [0,0.2,0.4,0.6,0.8,1], "format": ".1f", "title": "Probability", "labelAngle": -90, "labelFontSize": 6, "titleFontSize": 6.5, "tickSize": 2, "labelPadding": 1, "titlePadding": 5}},
          "color": {"field": "g", "type": "nominal", "scale": {"domain": ["low","high"], "range": ["#4d4d4d","#e0474c"]}, "legend": {"title": "Expression", "titleFontSize": 6, "labelFontSize": 6}}}},
        {"transform": [{"filter": "datum.k == 'h1'"}], "mark": {"type": "text", "align": "right", "baseline": "middle", "fontSize": 6, "fill": "#222"},
         "encoding": {
          "x": {"datum": 118, "type": "quantitative", "scale": {"domain": [0, 120], "nice": false, "zero": false}, "axis": {"values": [0,20,40,60,80,100,120], "title": "Time (months)", "labelFontSize": 6, "titleFontSize": 6.5, "tickSize": 2, "labelPadding": 3, "titlePadding": 14}},
          "y": {"datum": 0.918, "type": "quantitative", "scale": {"domain": [-0.04, 1.04], "nice": false, "zero": false}, "axis": {"values": [0,0.2,0.4,0.6,0.8,1], "format": ".1f", "title": "Probability", "labelAngle": -90, "labelFontSize": 6, "titleFontSize": 6.5, "tickSize": 2, "labelPadding": 1, "titlePadding": 5}},
          "text": {"field": "label", "type": "nominal"}}},
        {"transform": [{"filter": "datum.k == 'h2'"}], "mark": {"type": "text", "align": "right", "baseline": "middle", "fontSize": 6, "fill": "#222"},
         "encoding": {
          "x": {"datum": 118, "type": "quantitative", "scale": {"domain": [0, 120], "nice": false, "zero": false}, "axis": {"values": [0,20,40,60,80,100,120], "title": "Time (months)", "labelFontSize": 6, "titleFontSize": 6.5, "tickSize": 2, "labelPadding": 3, "titlePadding": 14}},
          "y": {"datum": 0.878, "type": "quantitative", "scale": {"domain": [-0.04, 1.04], "nice": false, "zero": false}, "axis": {"values": [0,0.2,0.4,0.6,0.8,1], "format": ".1f", "title": "Probability", "labelAngle": -90, "labelFontSize": 6, "titleFontSize": 6.5, "tickSize": 2, "labelPadding": 1, "titlePadding": 5}},
          "text": {"field": "label", "type": "nominal"}}}
      ]
     },
     {
      "width": 151, "height": 12, "view": {"stroke": null},
      "title": {"text": "Number at risk", "anchor": "start", "fontSize": 6, "fontWeight": "normal", "offset": 0, "color": "#222"},
      "data": {"name": "re"},
      "mark": {"type": "text", "fontSize": 6},
      "encoding": {
        "x": {"field": "t", "type": "quantitative", "scale": {"domain": [0, 120], "nice": false}, "axis": null},
        "y": {"field": "g", "type": "nominal", "scale": {"domain": ["low","high"]}, "axis": {"title": null, "ticks": false, "domain": false, "labelPadding": 7, "labelFontSize": 6, "labelColor": {"condition": {"test": "datum.value == 'high'", "value": "#e0303a"}, "value": "#222"}}},
        "text": {"field": "n", "type": "quantitative"},
        "color": {"condition": {"test": "datum.g == 'high'", "value": "#e0303a"}, "value": "#222"}
      }
     }
    ]
   },
   {
    "title": {"text": "(f)", "anchor": "start", "frame": "bounds", "fontSize": 17, "fontWeight": "bold", "offset": -18, "color": "#000"},
    "spacing": 0,
    "resolve": {"scale": {"x": "independent", "y": "independent", "color": "independent"}, "legend": {"color": "independent"}},
    "vconcat": [
     {
      "width": 151, "height": 145,
      "title": {"text": "MLH3", "font": "Liberation Serif", "fontSize": 15, "fontWeight": "normal", "offset": 3, "color": "#111"},
      "data": {"name": "f"},
      "layer": [
        {"transform": [{"filter": "datum.k == 'c'"}], "mark": {"type": "line", "interpolate": "step-after", "strokeWidth": 1},
         "encoding": {
          "x": {"field": "t", "type": "quantitative", "scale": {"domain": [0, 120], "nice": false, "zero": false}, "axis": {"values": [0,20,40,60,80,100,120], "title": "Time (months)", "labelFontSize": 6, "titleFontSize": 6.5, "tickSize": 2, "labelPadding": 3, "titlePadding": 14}},
          "y": {"field": "s", "type": "quantitative", "scale": {"domain": [-0.04, 1.04], "nice": false, "zero": false}, "axis": {"values": [0,0.2,0.4,0.6,0.8,1], "format": ".1f", "title": "Probability", "labelAngle": -90, "labelFontSize": 6, "titleFontSize": 6.5, "tickSize": 2, "labelPadding": 1, "titlePadding": 5}},
          "color": {"field": "g", "type": "nominal", "scale": {"domain": ["low","high"], "range": ["#4d4d4d","#e0474c"]}, "legend": {"title": "Expression", "titleFontSize": 6, "labelFontSize": 6}}}},
        {"transform": [{"filter": "datum.k == 'x'"}], "mark": {"type": "tick", "orient": "vertical", "size": 5, "thickness": 1},
         "encoding": {
          "x": {"field": "t", "type": "quantitative", "scale": {"domain": [0, 120], "nice": false, "zero": false}, "axis": {"values": [0,20,40,60,80,100,120], "title": "Time (months)", "labelFontSize": 6, "titleFontSize": 6.5, "tickSize": 2, "labelPadding": 3, "titlePadding": 14}},
          "y": {"field": "s", "type": "quantitative", "scale": {"domain": [-0.04, 1.04], "nice": false, "zero": false}, "axis": {"values": [0,0.2,0.4,0.6,0.8,1], "format": ".1f", "title": "Probability", "labelAngle": -90, "labelFontSize": 6, "titleFontSize": 6.5, "tickSize": 2, "labelPadding": 1, "titlePadding": 5}},
          "color": {"field": "g", "type": "nominal", "scale": {"domain": ["low","high"], "range": ["#4d4d4d","#e0474c"]}, "legend": {"title": "Expression", "titleFontSize": 6, "labelFontSize": 6}}}},
        {"transform": [{"filter": "datum.k == 'h1'"}], "mark": {"type": "text", "align": "right", "baseline": "middle", "fontSize": 6, "fill": "#222"},
         "encoding": {
          "x": {"datum": 118, "type": "quantitative", "scale": {"domain": [0, 120], "nice": false, "zero": false}, "axis": {"values": [0,20,40,60,80,100,120], "title": "Time (months)", "labelFontSize": 6, "titleFontSize": 6.5, "tickSize": 2, "labelPadding": 3, "titlePadding": 14}},
          "y": {"datum": 0.918, "type": "quantitative", "scale": {"domain": [-0.04, 1.04], "nice": false, "zero": false}, "axis": {"values": [0,0.2,0.4,0.6,0.8,1], "format": ".1f", "title": "Probability", "labelAngle": -90, "labelFontSize": 6, "titleFontSize": 6.5, "tickSize": 2, "labelPadding": 1, "titlePadding": 5}},
          "text": {"field": "label", "type": "nominal"}}},
        {"transform": [{"filter": "datum.k == 'h2'"}], "mark": {"type": "text", "align": "right", "baseline": "middle", "fontSize": 6, "fill": "#222"},
         "encoding": {
          "x": {"datum": 118, "type": "quantitative", "scale": {"domain": [0, 120], "nice": false, "zero": false}, "axis": {"values": [0,20,40,60,80,100,120], "title": "Time (months)", "labelFontSize": 6, "titleFontSize": 6.5, "tickSize": 2, "labelPadding": 3, "titlePadding": 14}},
          "y": {"datum": 0.878, "type": "quantitative", "scale": {"domain": [-0.04, 1.04], "nice": false, "zero": false}, "axis": {"values": [0,0.2,0.4,0.6,0.8,1], "format": ".1f", "title": "Probability", "labelAngle": -90, "labelFontSize": 6, "titleFontSize": 6.5, "tickSize": 2, "labelPadding": 1, "titlePadding": 5}},
          "text": {"field": "label", "type": "nominal"}}}
      ]
     },
     {
      "width": 151, "height": 12, "view": {"stroke": null},
      "title": {"text": "Number at risk", "anchor": "start", "fontSize": 6, "fontWeight": "normal", "offset": 0, "color": "#222"},
      "data": {"name": "rf"},
      "mark": {"type": "text", "fontSize": 6},
      "encoding": {
        "x": {"field": "t", "type": "quantitative", "scale": {"domain": [0, 120], "nice": false}, "axis": null},
        "y": {"field": "g", "type": "nominal", "scale": {"domain": ["low","high"]}, "axis": {"title": null, "ticks": false, "domain": false, "labelPadding": 7, "labelFontSize": 6, "labelColor": {"condition": {"test": "datum.value == 'high'", "value": "#e0303a"}, "value": "#222"}}},
        "text": {"field": "n", "type": "quantitative"},
        "color": {"condition": {"test": "datum.g == 'high'", "value": "#e0303a"}, "value": "#222"}
      }
     }
    ]
   },
   {
    "title": {"text": "(g)", "anchor": "start", "frame": "bounds", "fontSize": 17, "fontWeight": "bold", "offset": -18, "color": "#000"},
    "spacing": 0,
    "resolve": {"scale": {"x": "independent", "y": "independent", "color": "independent"}, "legend": {"color": "independent"}},
    "vconcat": [
     {
      "width": 151, "height": 145,
      "title": {"text": "PMS1", "font": "Liberation Serif", "fontSize": 15, "fontWeight": "normal", "offset": 3, "color": "#111"},
      "data": {"name": "g"},
      "layer": [
        {"transform": [{"filter": "datum.k == 'c'"}], "mark": {"type": "line", "interpolate": "step-after", "strokeWidth": 1},
         "encoding": {
          "x": {"field": "t", "type": "quantitative", "scale": {"domain": [0, 120], "nice": false, "zero": false}, "axis": {"values": [0,20,40,60,80,100,120], "title": "Time (months)", "labelFontSize": 6, "titleFontSize": 6.5, "tickSize": 2, "labelPadding": 3, "titlePadding": 14}},
          "y": {"field": "s", "type": "quantitative", "scale": {"domain": [-0.04, 1.04], "nice": false, "zero": false}, "axis": {"values": [0,0.2,0.4,0.6,0.8,1], "format": ".1f", "title": "Probability", "labelAngle": -90, "labelFontSize": 6, "titleFontSize": 6.5, "tickSize": 2, "labelPadding": 1, "titlePadding": 5}},
          "color": {"field": "g", "type": "nominal", "scale": {"domain": ["low","high"], "range": ["#4d4d4d","#e0474c"]}, "legend": {"title": "Expression", "titleFontSize": 6, "labelFontSize": 6}}}},
        {"transform": [{"filter": "datum.k == 'x'"}], "mark": {"type": "tick", "orient": "vertical", "size": 5, "thickness": 1},
         "encoding": {
          "x": {"field": "t", "type": "quantitative", "scale": {"domain": [0, 120], "nice": false, "zero": false}, "axis": {"values": [0,20,40,60,80,100,120], "title": "Time (months)", "labelFontSize": 6, "titleFontSize": 6.5, "tickSize": 2, "labelPadding": 3, "titlePadding": 14}},
          "y": {"field": "s", "type": "quantitative", "scale": {"domain": [-0.04, 1.04], "nice": false, "zero": false}, "axis": {"values": [0,0.2,0.4,0.6,0.8,1], "format": ".1f", "title": "Probability", "labelAngle": -90, "labelFontSize": 6, "titleFontSize": 6.5, "tickSize": 2, "labelPadding": 1, "titlePadding": 5}},
          "color": {"field": "g", "type": "nominal", "scale": {"domain": ["low","high"], "range": ["#4d4d4d","#e0474c"]}, "legend": {"title": "Expression", "titleFontSize": 6, "labelFontSize": 6}}}},
        {"transform": [{"filter": "datum.k == 'h1'"}], "mark": {"type": "text", "align": "right", "baseline": "middle", "fontSize": 6, "fill": "#222"},
         "encoding": {
          "x": {"datum": 118, "type": "quantitative", "scale": {"domain": [0, 120], "nice": false, "zero": false}, "axis": {"values": [0,20,40,60,80,100,120], "title": "Time (months)", "labelFontSize": 6, "titleFontSize": 6.5, "tickSize": 2, "labelPadding": 3, "titlePadding": 14}},
          "y": {"datum": 0.918, "type": "quantitative", "scale": {"domain": [-0.04, 1.04], "nice": false, "zero": false}, "axis": {"values": [0,0.2,0.4,0.6,0.8,1], "format": ".1f", "title": "Probability", "labelAngle": -90, "labelFontSize": 6, "titleFontSize": 6.5, "tickSize": 2, "labelPadding": 1, "titlePadding": 5}},
          "text": {"field": "label", "type": "nominal"}}},
        {"transform": [{"filter": "datum.k == 'h2'"}], "mark": {"type": "text", "align": "right", "baseline": "middle", "fontSize": 6, "fill": "#222"},
         "encoding": {
          "x": {"datum": 118, "type": "quantitative", "scale": {"domain": [0, 120], "nice": false, "zero": false}, "axis": {"values": [0,20,40,60,80,100,120], "title": "Time (months)", "labelFontSize": 6, "titleFontSize": 6.5, "tickSize": 2, "labelPadding": 3, "titlePadding": 14}},
          "y": {"datum": 0.878, "type": "quantitative", "scale": {"domain": [-0.04, 1.04], "nice": false, "zero": false}, "axis": {"values": [0,0.2,0.4,0.6,0.8,1], "format": ".1f", "title": "Probability", "labelAngle": -90, "labelFontSize": 6, "titleFontSize": 6.5, "tickSize": 2, "labelPadding": 1, "titlePadding": 5}},
          "text": {"field": "label", "type": "nominal"}}}
      ]
     },
     {
      "width": 151, "height": 12, "view": {"stroke": null},
      "title": {"text": "Number at risk", "anchor": "start", "fontSize": 6, "fontWeight": "normal", "offset": 0, "color": "#222"},
      "data": {"name": "rg"},
      "mark": {"type": "text", "fontSize": 6},
      "encoding": {
        "x": {"field": "t", "type": "quantitative", "scale": {"domain": [0, 120], "nice": false}, "axis": null},
        "y": {"field": "g", "type": "nominal", "scale": {"domain": ["low","high"]}, "axis": {"title": null, "ticks": false, "domain": false, "labelPadding": 7, "labelFontSize": 6, "labelColor": {"condition": {"test": "datum.value == 'high'", "value": "#e0303a"}, "value": "#222"}}},
        "text": {"field": "n", "type": "quantitative"},
        "color": {"condition": {"test": "datum.g == 'high'", "value": "#e0303a"}, "value": "#222"}
      }
     }
    ]
   }
  ],
  "spacing": 10,
  "resolve": {"scale": {"x": "independent", "y": "independent", "color": "independent"}, "legend": {"color": "independent"}}
 }
]
}
